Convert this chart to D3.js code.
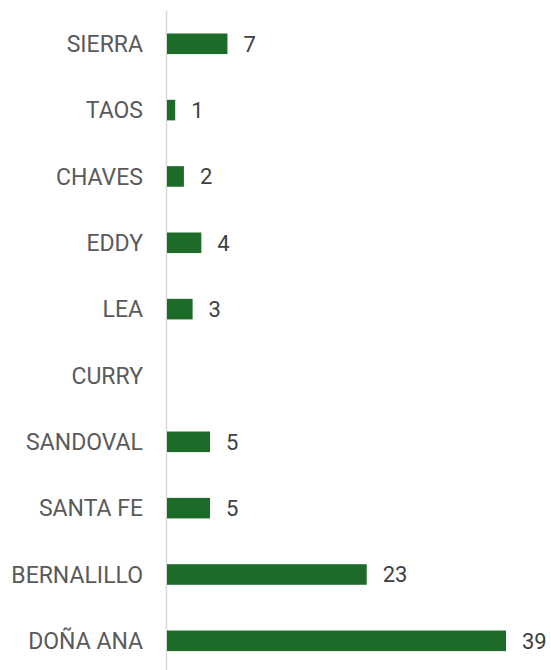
<!DOCTYPE html>
<html>
<head>
<meta charset="utf-8">
<script src="https://cdn.jsdelivr.net/npm/d3@7"></script>
<style>
  html, body { margin: 0; padding: 0; background: #fff; }
  svg { display: block; }
</style>
</head>
<body>
<svg id="chart" width="551" height="670"></svg>
<script>
// Counties, top to bottom, and their counts (CURRY has none)
const counties = ["SIERRA", "TAOS", "CHAVES", "EDDY", "LEA", "CURRY", "SANDOVAL", "SANTA FE", "BERNALILLO", "DOÑA ANA"];
const counts = [7, 1, 2, 4, 3, 0, 5, 5, 23, 39];

const W = 551, H = 670;
const x0 = 166.5;
const svg = d3.select("#chart");

const x = d3.scaleLinear().domain([0, 39]).range([x0, 506]);
const y = d3.scaleBand().domain(counties).range([10.6, 674]).paddingInner(0.69).paddingOuter(0.345);

const data = counties.map((c, i) => ({ county: c, value: counts[i] }));

// category axis: vertical rule + labels
svg.append("line")
  .attr("x1", x0).attr("x2", x0)
  .attr("y1", 11).attr("y2", H)
  .attr("stroke", "#d9d9d9").attr("stroke-width", 1.5);

svg.append("g").selectAll("text")
  .data(data).join("text")
  .attr("x", 143)
  .attr("y", d => y(d.county) + y.bandwidth() / 2)
  .attr("dy", "0.36em")
  .attr("text-anchor", "end")
  .attr("font-family", "Roboto, sans-serif")
  .attr("font-size", 23)
  .attr("fill", "#5a5a5a")
  .text(d => d.county);

// bars
svg.append("g").selectAll("rect")
  .data(data.filter(d => d.value > 0)).join("rect")
  .attr("x", x(0) + 0.5)
  .attr("y", d => y(d.county))
  .attr("width", d => x(d.value) - x(0) - 0.5)
  .attr("height", y.bandwidth())
  .attr("fill", "#1d6b28");

// value labels
svg.append("g").selectAll("text")
  .data(data.filter(d => d.value > 0)).join("text")
  .attr("x", d => x(d.value) + 16)
  .attr("y", d => y(d.county) + y.bandwidth() / 2)
  .attr("dy", "0.36em")
  .attr("font-family", "Roboto, sans-serif")
  .attr("font-size", 22)
  .attr("fill", "#404040")
  .text(d => d.value);
</script>
</body>
</html>
